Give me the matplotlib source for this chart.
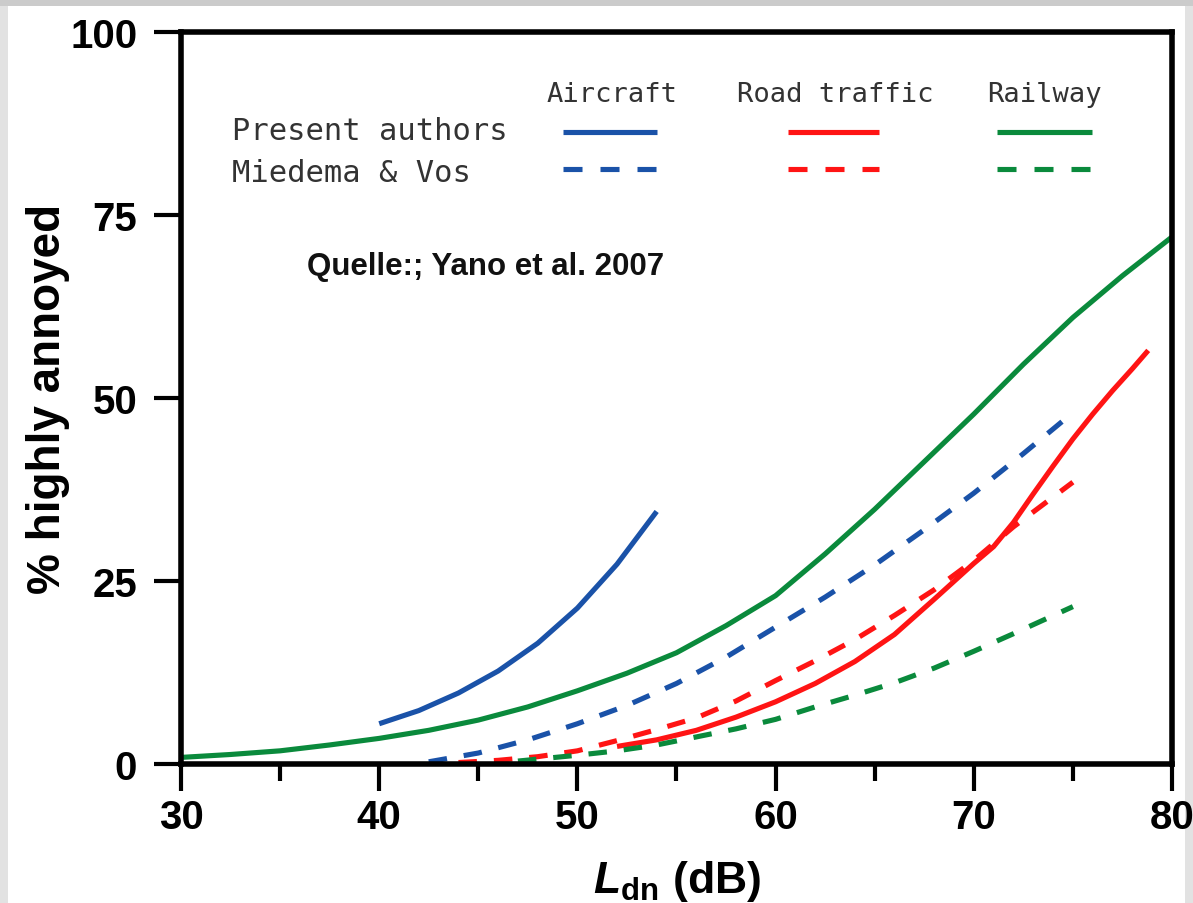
import matplotlib
matplotlib.use('Agg')
import matplotlib.pyplot as plt
from matplotlib.patches import Rectangle
from matplotlib.lines import Line2D
from matplotlib.ticker import MultipleLocator

# ---------------- data ----------------
air_present_x = [40, 42, 44, 46, 48, 50, 52, 54]
air_present_y = [5.5, 7.3, 9.7, 12.7, 16.5, 21.3, 27.3, 34.5]

air_mv_x = [42.5, 45, 47.5, 50, 52.5, 55, 57.5, 60, 62.5, 65, 67.5, 70, 72.5, 75]
air_mv_y = [0.3, 1.5, 3.3, 5.5, 8.0, 11.0, 14.6, 18.7, 22.8, 27.2, 32.0, 37.0, 42.4, 48.0]

road_present_x = [52, 54, 56, 58, 60, 62, 64, 66, 68, 70, 71, 72, 73, 74, 75, 76, 77, 78, 78.8]
road_present_y = [2.4, 3.3, 4.6, 6.4, 8.5, 11.0, 14.0, 17.7, 22.5, 27.4, 29.7, 33.0, 36.9,
                  40.7, 44.4, 47.8, 51.0, 54.0, 56.5]

road_mv_x = [44, 46, 48, 50, 52, 54, 56, 58, 60, 62, 64, 66, 68, 70, 72, 75]
road_mv_y = [0.2, 0.5, 1.0, 1.8, 3.2, 4.7, 6.3, 8.6, 11.4, 14.1, 17.0, 20.3, 23.8, 27.8, 32.4, 38.5]

rail_present_x = [30, 32.5, 35, 37.5, 40, 42.5, 45, 47.5, 50, 52.5, 55, 57.5, 60,
                  62.5, 65, 67.5, 70, 72.5, 75, 77.5, 80]
rail_present_y = [0.9, 1.3, 1.8, 2.6, 3.5, 4.6, 6.0, 7.8, 10.0, 12.4, 15.2, 18.9, 23.0,
                  28.7, 34.8, 41.3, 47.8, 54.6, 61.0, 66.7, 72.0]

rail_mv_x = [47, 50, 52, 54, 56, 58, 60, 62, 64, 66, 68, 70, 72, 75]
rail_mv_y = [0.4, 1.2, 1.8, 2.6, 3.7, 4.8, 6.1, 7.8, 9.4, 11.1, 13.1, 15.4, 17.8, 21.5]

x_ticks = [30, 40, 50, 60, 70, 80]
y_ticks = [0, 25, 50, 75, 100]

sources = ["Aircraft", "Road traffic", "Railway"]
rows = ["Present authors", "Miedema & Vos"]
source_note = "Quelle:; Yano et al. 2007"

# ---------------- style ----------------
BLUE = '#1a52a8'
RED = '#ff1414'
GREEN = '#0a8a3c'
LW = 3.7
DASH = (3.6, 3.3)

plt.rcParams['font.family'] = ['Liberation Sans', 'DejaVu Sans']
plt.rcParams['mathtext.fontset'] = 'custom'
plt.rcParams['mathtext.bf'] = 'Liberation Sans:bold'
plt.rcParams['mathtext.bfit'] = 'Liberation Sans:italic:bold'
plt.rcParams['mathtext.it'] = 'Liberation Sans:italic:bold'

W, H = 1193, 904
fig = plt.figure(figsize=(W / 100, H / 100), dpi=100)
fig.patch.set_facecolor('#e2e2e2')
fig.patches.append(Rectangle((8 / W, 0), (1185 - 8) / W, (H - 7) / H,
                             transform=fig.transFigure, facecolor='white',
                             edgecolor='none', zorder=-5))
fig.patches.append(Rectangle((0, (H - 7) / H), 1, 7 / H,
                             transform=fig.transFigure, facecolor='#cbcbcb',
                             edgecolor='none', zorder=-5))

ax = fig.add_axes([181 / W, (H - 765) / H, 991 / W, 732 / H])
ax.set_facecolor('white')

# curves
ax.plot(air_present_x, air_present_y, color=BLUE, lw=LW, solid_capstyle='butt')
ax.plot(road_present_x, road_present_y, color=RED, lw=LW, solid_capstyle='butt')
ax.plot(rail_present_x, rail_present_y, color=GREEN, lw=LW, solid_capstyle='butt')
ax.plot(air_mv_x, air_mv_y, color=BLUE, lw=LW, dashes=DASH)
ax.plot(road_mv_x, road_mv_y, color=RED, lw=LW, dashes=DASH)
ax.plot(rail_mv_x, rail_mv_y, color=GREEN, lw=LW, dashes=DASH)

ax.set_xlim(30, 80)
ax.set_ylim(0, 100)
ax.set_xticks(x_ticks)
ax.set_yticks(y_ticks)
ax.xaxis.set_minor_locator(MultipleLocator(5))
ax.tick_params(axis='both', which='major', direction='out', length=19.5,
               width=3, color='black', labelsize=29, pad=5)
ax.tick_params(axis='y', which='major', pad=12)
ax.tick_params(axis='x', which='minor', direction='out', length=12, width=3)
for lab in ax.get_xticklabels() + ax.get_yticklabels():
    lab.set_fontweight('bold')
for sp in ax.spines.values():
    sp.set_linewidth(4)
    sp.set_color('black')

ax.set_ylabel('% highly annoyed', fontsize=33, fontweight='bold')
ax.yaxis.set_label_coords(-0.112, 0.5)
ax.set_xlabel(r'$\mathbfit{L}_{\mathbf{dn}}$ (dB)', fontsize=32, fontweight='bold')
ax.xaxis.set_label_coords(0.5, -0.128)

# legend table
mono = 'DejaVu Sans Mono'
tcol = '#333333'
hdr_x = [0.3693, 0.5610, 0.8133]
for sx, name in zip(hdr_x, sources):
    ax.text(sx, 0.9057, name, transform=ax.transAxes, fontsize=19.5,
            family=mono, color=tcol, va='baseline', ha='left')
ax.text(0.0515, 0.8538, rows[0], transform=ax.transAxes, fontsize=22,
        family=mono, color=tcol, va='baseline', ha='left')
ax.text(0.0515, 0.7964, rows[1], transform=ax.transAxes, fontsize=22,
        family=mono, color=tcol, va='baseline', ha='left')

seg = [(0.3855, 0.4803), (0.6125, 0.7044), (0.8234, 0.9193)]
cols = [BLUE, RED, GREEN]
for (a, b), c in zip(seg, cols):
    ax.add_line(Line2D([a, b], [0.8634, 0.8634], transform=ax.transAxes,
                       color=c, lw=LW, solid_capstyle='butt'))
    ax.add_line(Line2D([a, b], [0.8128, 0.8128], transform=ax.transAxes,
                       color=c, lw=LW, dashes=(3.7, 3.5)))

ax.text(0.1271, 0.6694, source_note, transform=ax.transAxes, fontsize=22.5,
        fontweight='bold', color='#111111', va='baseline', ha='left')

fig.savefig('out.png', dpi=100)
